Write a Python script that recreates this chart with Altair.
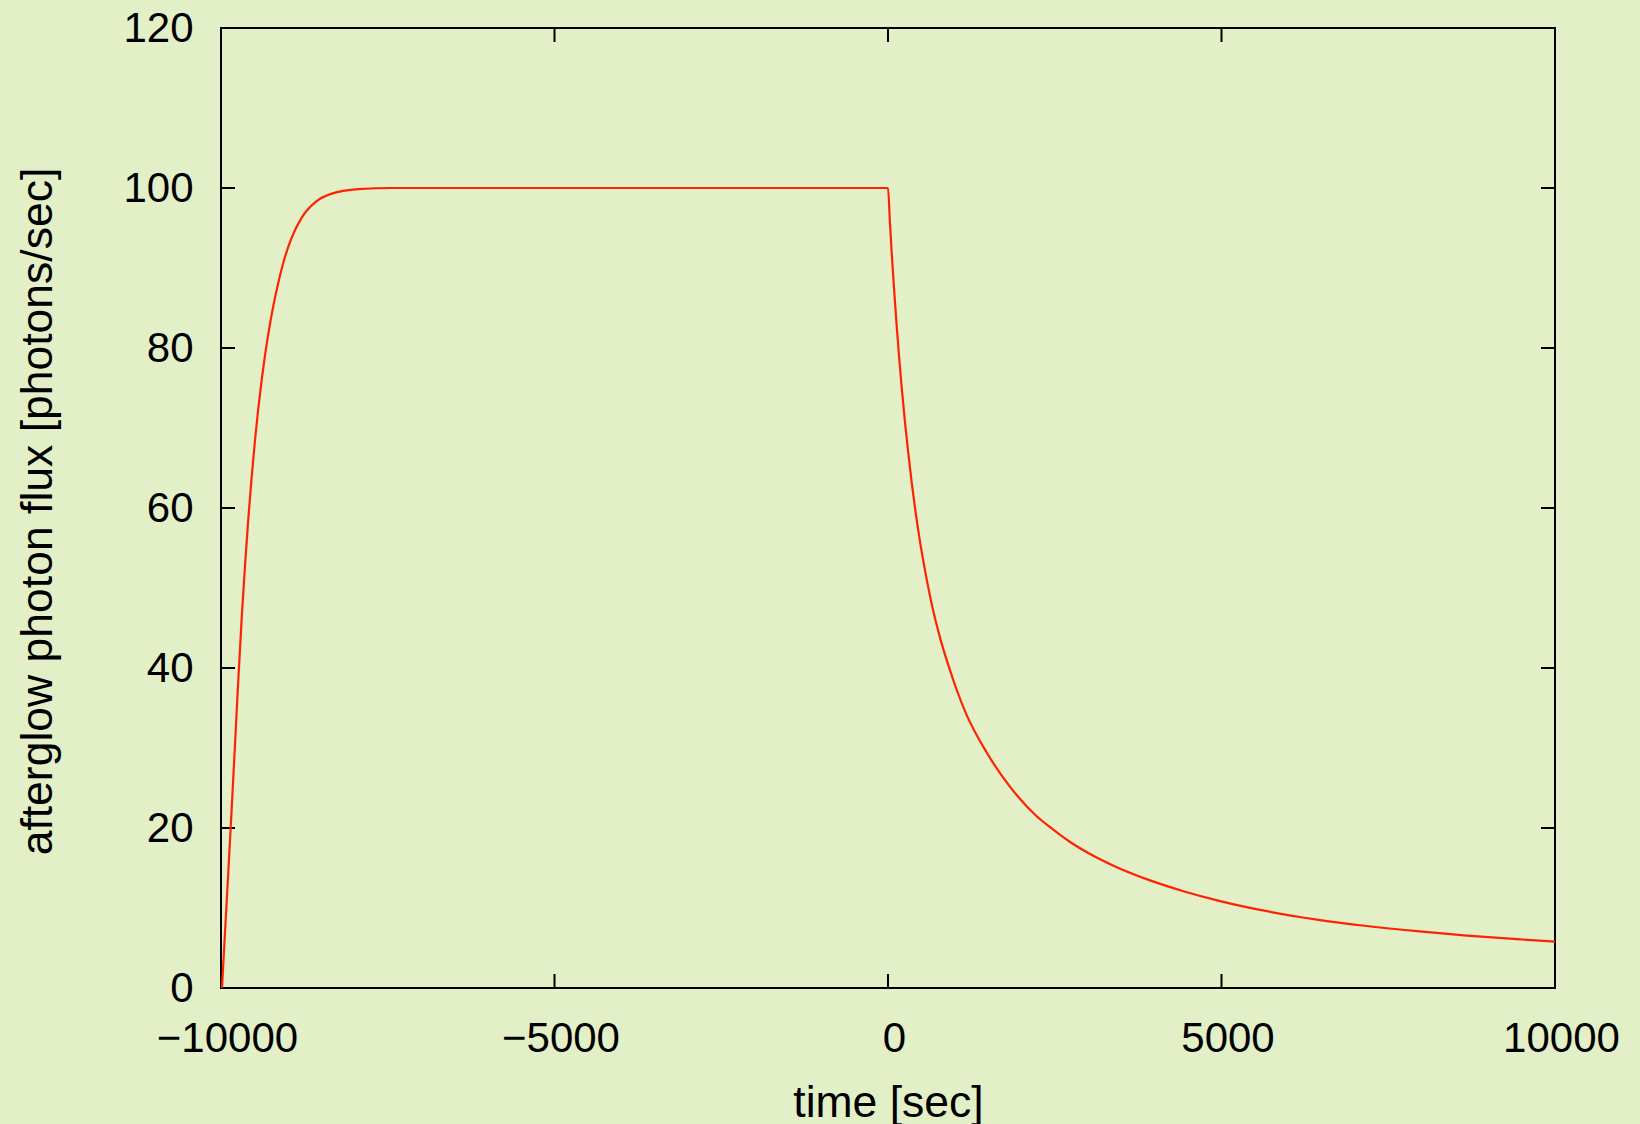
import altair as alt
import pandas as pd

# ---- data ----
rise_t = [-9985, -9930, -9890, -9855, -9815, -9780, -9740, -9690, -9640, -9590,
          -9540, -9490, -9440, -9390, -9340, -9290, -9215, -9140, -9040, -8940,
          -8790, -8590, -8340, -7940, -7440]
rise_v = [0, 8.5, 14.6, 20, 26.4, 32.1, 38.6, 46.2, 52.8, 58.7,
          63.9, 68.5, 72.5, 76.0, 79.1, 81.8, 85.3, 88.2, 91.4, 93.8,
          96.3, 98.2, 99.3, 99.85, 100]
plateau_t = [-5000, 0]
plateau_v = [100, 100]
decay_t = [30, 55, 80, 105, 130, 170, 205, 255, 305, 355, 405, 480, 555, 655,
           780, 930, 1020, 1175, 1475, 1825, 2225, 2430, 2730, 3030, 3430, 3930,
           4430, 5010, 5680, 6430, 7180, 7930, 8680, 9430, 10000]
decay_v = [95.5, 92.0, 88.8, 85.7, 82.8, 78.5, 75.1, 70.7, 66.8, 63.2, 60.0, 55.8,
           52.2, 48.0, 43.8, 39.7, 37.5, 34.2, 29.5, 25.2, 21.5, 20.1, 18.25, 16.75,
           15.1, 13.45, 12.1, 10.8, 9.6, 8.55, 7.75, 7.1, 6.55, 6.1, 5.8]

x_ticks = [-10000, -5000, 0, 5000, 10000]
y_ticks = [0, 20, 40, 60, 80, 100, 120]

x_title = "time [sec]"
y_title = "afterglow photon flux [photons/sec]"

# ---- styling ----
BG = "#e3efc7"
RED = "#ff2200"
FONT = "Liberation Sans"
FS = 42
TFS = 44.5
W, H = 1334, 960
TICK = 14

curve = pd.DataFrame({
    "t": rise_t + plateau_t + decay_t,
    "v": rise_v + plateau_v + decay_v,
})
xt = pd.DataFrame({"t": x_ticks})
yt = pd.DataFrame({"v": y_ticks})

xscale = alt.Scale(domain=[-10000, 10000], nice=False, zero=False)
yscale = alt.Scale(domain=[0, 120], nice=False, zero=False)

x_axis = alt.Axis(
    values=x_ticks, format="d",
    labelExpr="datum.value < 0 ? '\u2212' + format(-datum.value, 'd') : format(datum.value, 'd')",
    ticks=False, domain=False, grid=False,
    labelFont=FONT, labelFontSize=FS, labelColor="black",
    labelPadding=30, labelOffset=6, labelFlush=False, labelOverlap=False, labelBound=False,
    title=x_title, titleFont=FONT, titleFontSize=TFS, titleFontWeight="normal",
    titleColor="black", titleX=W / 2, titleY=128, titleBaseline="alphabetic",
    titleAlign="center",
)
y_axis = alt.Axis(
    values=y_ticks, format="d",
    ticks=False, domain=False, grid=False,
    labelFont=FONT, labelFontSize=FS, labelColor="black",
    labelPadding=28, labelFlush=False, labelOverlap=False, labelBound=False,
    title=y_title, titleFont=FONT, titleFontSize=TFS, titleFontWeight="normal",
    titleColor="black", titleX=-161, titleY=483, titleAngle=270,
    titleBaseline="bottom", titleAlign="center",
)

line = alt.Chart(curve).mark_line(
    color=RED, strokeWidth=2.2, clip=False, interpolate="monotone"
).encode(
    x=alt.X("t:Q", scale=xscale, axis=x_axis),
    y=alt.Y("v:Q", scale=yscale, axis=y_axis),
    order="t:Q",
)

tick_style = dict(color="black", strokeWidth=2)
bottom_ticks = alt.Chart(xt).mark_rule(**tick_style).encode(
    x=alt.X("t:Q", scale=xscale), y=alt.value(H), y2=alt.value(H - TICK))
top_ticks = alt.Chart(xt).mark_rule(**tick_style).encode(
    x=alt.X("t:Q", scale=xscale), y=alt.value(0), y2=alt.value(TICK))
left_ticks = alt.Chart(yt).mark_rule(**tick_style).encode(
    y=alt.Y("v:Q", scale=yscale), x=alt.value(0), x2=alt.value(TICK))
right_ticks = alt.Chart(yt).mark_rule(**tick_style).encode(
    y=alt.Y("v:Q", scale=yscale), x=alt.value(W - TICK), x2=alt.value(W))

chart = alt.layer(
    bottom_ticks, top_ticks, left_ticks, right_ticks, line
).properties(
    width=W, height=H,
    autosize=alt.AutoSizeParams(type="none"),
    padding={"left": 221, "top": 28, "right": 85, "bottom": 136},
    background=BG,
).configure_view(
    stroke="black", strokeWidth=2, fill=BG,
)

chart.save("out.html", embed_options={"renderer": "svg", "actions": False})
